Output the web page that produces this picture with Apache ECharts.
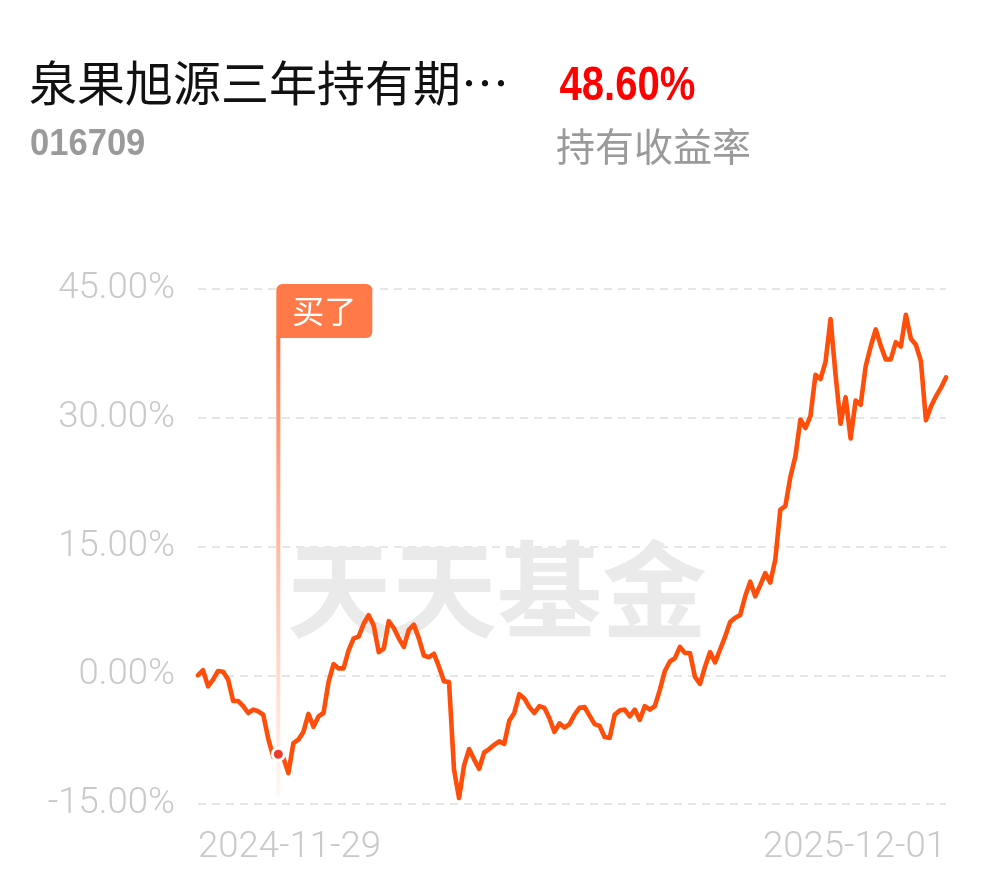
<!DOCTYPE html>
<html><head><meta charset="utf-8">
<script src="https://cdn.jsdelivr.net/npm/echarts@6/dist/echarts.min.js"></script>
<style>html,body{margin:0;padding:0;background:#fff}#c{width:990px;height:878px}</style>
</head><body><div id="c"></div>
<script>
const startDate = '2024-11-29';
const endDate = '2025-12-01';
const values = [
0.0, 0.6, -1.3, -0.5, 0.5, 0.4, -0.5, -3.0, -3.0, -3.6,
-4.4, -4.0, -4.2, -4.6, -7.4, -9.5, -9.2, -9.6, -11.4, -7.9,
-7.5, -6.6, -4.5, -6.0, -4.8, -4.4, -0.8, 1.3, 0.8, 0.8,
2.9, 4.3, 4.5, 6.0, 7.0, 5.8, 2.7, 3.1, 6.3, 5.5,
4.3, 3.3, 5.3, 5.9, 4.3, 2.3, 2.1, 2.5, 1.0, -0.7,
-0.8, -11.0, -14.3, -10.5, -8.6, -9.8, -10.9, -9.0, -8.6, -8.1,
-7.7, -8.0, -5.3, -4.4, -2.2, -2.7, -3.7, -4.4, -3.6, -3.8,
-5.0, -6.6, -5.6, -6.1, -5.7, -4.6, -3.8, -3.7, -4.7, -5.7,
-5.9, -7.2, -7.3, -4.6, -4.1, -4.0, -4.8, -4.0, -5.2, -3.6,
-4.0, -3.6, -1.7, 0.5, 1.6, 2.0, 3.3, 2.6, 2.6, -0.2,
-1.0, 1.0, 2.7, 1.5, 3.0, 4.5, 6.2, 6.7, 7.0, 9.2,
10.9, 9.2, 10.5, 11.9, 10.8, 13.5, 19.3, 19.7, 23.1, 25.5,
29.8, 28.8, 30.2, 35.0, 34.5, 36.5, 41.5, 35.0, 29.3, 32.4,
27.6, 32.0, 31.5, 36.0, 38.3, 40.3, 38.4, 36.8, 36.8, 38.8,
38.3, 42.0, 39.2, 38.5, 36.6, 29.7, 31.3, 32.5, 33.5, 34.7
];
const yTicks = [-15, 0, 15, 30, 45];
const buyIndex = 16;
const buyLabel = '买了';
const fundName = '泉果旭源三年持有期…';
const fundCode = '016709';
const holdReturn = '48.60%';
const holdReturnLabel = '持有收益率';
const watermark = '天天基金';

function fmt(d){
  const m = d.getUTCMonth()+1, day = d.getUTCDate();
  return d.getUTCFullYear()+'-'+(m<10?'0':'')+m+'-'+(day<10?'0':'')+day;
}
function buildDates(n){
  const s = Date.parse(startDate+'T00:00:00Z'), e = Date.parse(endDate+'T00:00:00Z');
  const out = [];
  for (let i=0;i<n;i++){
    if (i===0) out.push(startDate);
    else if (i===n-1) out.push(endDate);
    else out.push(fmt(new Date(s + Math.round((e-s)*i/(n-1)/86400000)*86400000)));
  }
  return out;
}
const categories = buildDates(values.length);

const chart = echarts.init(document.getElementById('c'), null, {renderer:'canvas'});
const labelFont = 'Roboto, "Noto Sans", sans-serif';
const numFont = '"Liberation Sans", Arial, sans-serif';
chart.setOption({
  animation:false,
  backgroundColor:'#fff',
  title:[
    {text:fundName, left:29, top:59, padding:0, textStyle:{fontSize:48, fontWeight:'normal', color:'#111', fontFamily:'"Noto Sans CJK SC"'}},
    {text:holdReturnLabel, left:556, top:127, padding:0, textStyle:{fontSize:39, fontWeight:'normal', color:'#9a9a9a', fontFamily:'"Noto Sans CJK SC"'}}
  ],
  grid:{left:198, right:44, top:289, bottom:74, containLabel:false},
  xAxis:{
    type:'category', data:categories, boundaryGap:false,
    axisLine:{show:false}, axisTick:{show:false}, splitLine:{show:false},
    axisLabel:{
      interval:function(i){return i===0 || i===categories.length-1;},
      alignMinLabel:'left', alignMaxLabel:'right',
      margin:25, fontSize:36.5, color:'#c9c9c9', fontFamily:labelFont, fontWeight:300
    }
  },
  yAxis:{
    type:'value', min:yTicks[0], max:yTicks[yTicks.length-1], interval:15,
    axisLine:{show:false}, axisTick:{show:false},
    axisLabel:{formatter:function(v){return v.toFixed(2)+'%';}, margin:23, fontSize:36.5, color:'#c9c9c9', fontFamily:labelFont, fontWeight:300},
    splitLine:{show:true, lineStyle:{color:'#e6e6e6', width:2, type:[8,6]}}
  },
  series:[{
    type:'line', data:values, symbol:'none', smooth:false, z:5,
    lineStyle:{color:'#ff4d0a', width:4.6, join:'round', cap:'round'}
  }]
});

const p = chart.convertToPixel({xAxisIndex:0, yAxisIndex:0}, [buyIndex, values[buyIndex]]);
const pTop = chart.convertToPixel({xAxisIndex:0, yAxisIndex:0}, [buyIndex, yTicks[yTicks.length-1]]);
const pBottom = chart.convertToPixel({xAxisIndex:0, yAxisIndex:0}, [buyIndex, yTicks[0]]);
const boxLeft = p[0]-2, boxTop = pTop[1]-5, boxW = 96, boxH = 54;
chart.setOption({
  graphic:[
    {type:'text', x:30, y:127.5, scaleX:0.96, silent:true,
     style:{text:fundCode, x:0, y:0, align:'left', verticalAlign:'top', fill:'#9a9a9a', fontSize:36, fontWeight:'bold', fontFamily:numFont}},
    {type:'text', x:559.5, y:63, scaleX:0.835, silent:true,
     style:{text:holdReturn, x:0, y:0, align:'left', verticalAlign:'top', fill:'#ff0000', fontSize:48, fontWeight:'bold', fontFamily:numFont}},
    {type:'text', z:0, zlevel:0, silent:true,
     style:{text:watermark, x:497, y:589, align:'center', verticalAlign:'middle', fill:'#eaeaea', fontSize:105, fontWeight:'bold', fontFamily:'"Noto Sans CJK SC"'}},
    {type:'rect', z:1, silent:true,
     shape:{x:p[0]-2, y:boxTop+boxH-2, width:4, height:(pBottom[1]-8)-(boxTop+boxH-2)},
     style:{fill:new echarts.graphic.LinearGradient(0,0,0,1,[{offset:0,color:'rgba(255,118,70,1)'},{offset:0.5,color:'rgba(255,140,100,0.55)'},{offset:1,color:'rgba(255,150,110,0.08)'}])}},
    {type:'rect', z:20, silent:true,
     shape:{x:boxLeft, y:boxTop, width:boxW, height:boxH, r:[6,6,6,0]},
     style:{fill:'#ff7a48'}},
    {type:'text', z:21, silent:true,
     style:{text:buyLabel, x:boxLeft+boxW/2, y:boxTop+boxH/2, align:'center', verticalAlign:'middle', fill:'#fff', fontSize:32, fontFamily:'"Noto Sans CJK SC"'}},
    {type:'circle', z:22, silent:true,
     shape:{cx:p[0], cy:p[1], r:6},
     style:{fill:'#ee3a2a', stroke:'#fff', lineWidth:3}}
  ]
});
</script>
</body></html>
